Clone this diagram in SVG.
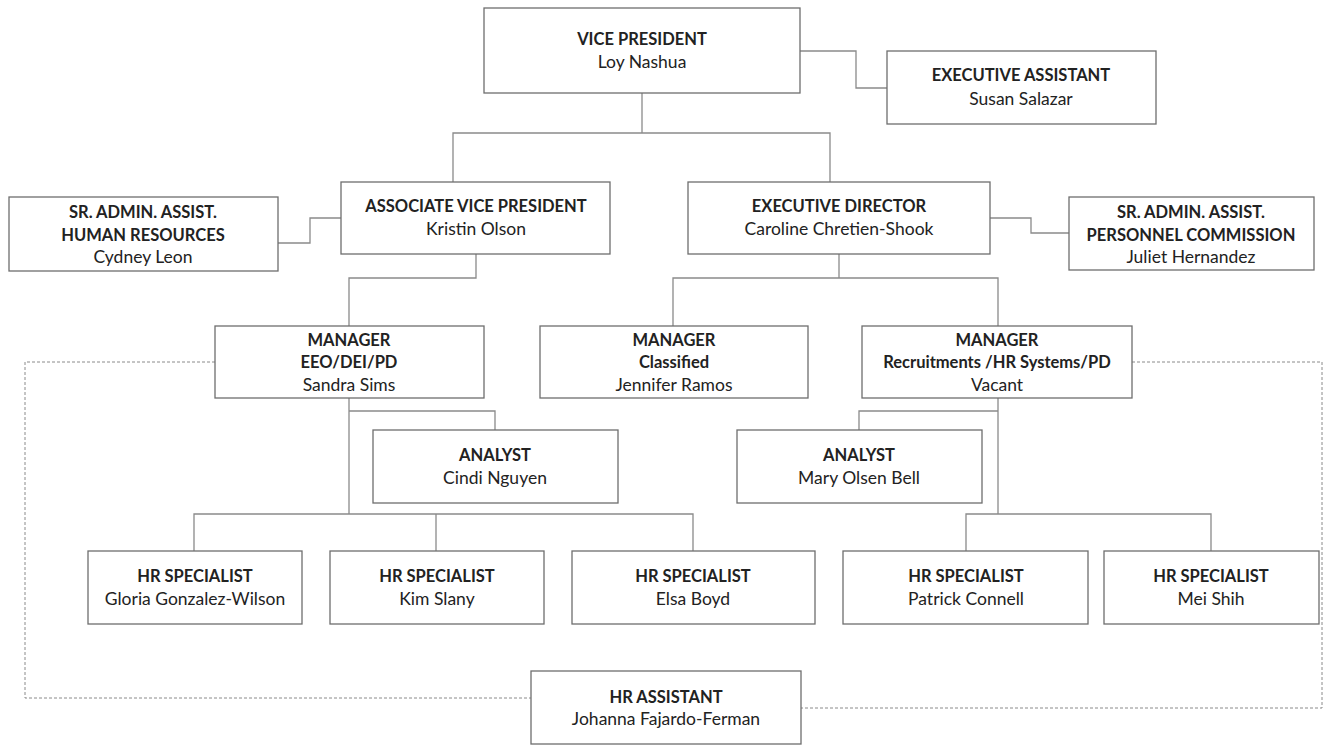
<svg xmlns="http://www.w3.org/2000/svg" width="1333" height="745" viewBox="0 0 1333 745">
  <style>
    .box { fill: #ffffff; stroke: #6e6e6e; stroke-width: 1.3; }
    .link { fill: none; stroke: #8a8a8a; stroke-width: 1.3; }
    .dotted { fill: none; stroke: #8a8a8a; stroke-width: 1; stroke-dasharray: 3 2; }
    text { font-family: Lato, "Open Sans", "Liberation Sans", sans-serif; font-size: 17.5px; fill: #222222; text-anchor: middle; }
    .title { font-weight: bold; font-size: 16.5px; }
  </style>
  <rect width="1333" height="745" fill="#ffffff"/>

  <!-- reporting lines -->
  <g id="connectors">
    <polyline class="link" points="800,51 856,51 856,88 887,88"/>
    <polyline class="link" points="642,93 642,133"/>
    <polyline class="link" points="453,182 453,133 830,133 830,182"/>
    <polyline class="link" points="341,218 310,218 310,243 278,243"/>
    <polyline class="link" points="990,218 1031,218 1031,233 1069,233"/>
    <polyline class="link" points="476,254 476,278 349,278 349,326"/>
    <polyline class="link" points="839,254 839,278"/>
    <polyline class="link" points="673,326 673,278 998,278 998,326"/>
    <polyline class="link" points="349,398 349,514"/>
    <polyline class="link" points="349,411 495,411 495,430"/>
    <polyline class="link" points="194,551 194,514 693,514 693,551"/>
    <polyline class="link" points="436,514 436,551"/>
    <polyline class="link" points="998,398 998,514"/>
    <polyline class="link" points="998,411 859,411 859,430"/>
    <polyline class="link" points="966,551 966,514 1211,514 1211,551"/>
    <!-- shared assistant, dotted lines -->
    <polyline class="dotted" points="215,362 25,362 25,698 531,698"/>
    <polyline class="dotted" points="1132,362 1322,362 1322,708 801,708"/>
  </g>

  <g id="vice-president">
    <rect class="box" x="484" y="8" width="316" height="85"/>
    <text class="title" x="642" y="45">VICE PRESIDENT</text>
    <text x="642" y="68">Loy Nashua</text>
  </g>

  <g id="executive-assistant">
    <rect class="box" x="887" y="51" width="269" height="73"/>
    <text class="title" x="1021" y="81">EXECUTIVE ASSISTANT</text>
    <text x="1021" y="105">Susan Salazar</text>
  </g>

  <g id="associate-vice-president">
    <rect class="box" x="341" y="182" width="269" height="72"/>
    <text class="title" x="476" y="212">ASSOCIATE VICE PRESIDENT</text>
    <text x="476" y="235">Kristin Olson</text>
  </g>

  <g id="executive-director">
    <rect class="box" x="688" y="182" width="302" height="72"/>
    <text class="title" x="839" y="212">EXECUTIVE DIRECTOR</text>
    <text x="839" y="235">Caroline Chretien-Shook</text>
  </g>

  <g id="sr-admin-hr">
    <rect class="box" x="9" y="197" width="269" height="74"/>
    <text class="title" x="143" y="218">SR. ADMIN. ASSIST.</text>
    <text class="title" x="143" y="241">HUMAN RESOURCES</text>
    <text x="143" y="263">Cydney Leon</text>
  </g>

  <g id="sr-admin-pc">
    <rect class="box" x="1069" y="197" width="245" height="73"/>
    <text class="title" x="1191" y="218">SR. ADMIN. ASSIST.</text>
    <text class="title" x="1191" y="241">PERSONNEL COMMISSION</text>
    <text x="1191" y="263">Juliet Hernandez</text>
  </g>

  <g id="manager-eeo">
    <rect class="box" x="215" y="326" width="269" height="72"/>
    <text class="title" x="349" y="346">MANAGER</text>
    <text class="title" x="349" y="368">EEO/DEI/PD</text>
    <text x="349" y="391">Sandra Sims</text>
  </g>

  <g id="manager-classified">
    <rect class="box" x="540" y="326" width="268" height="72"/>
    <text class="title" x="674" y="346">MANAGER</text>
    <text class="title" x="674" y="368">Classified</text>
    <text x="674" y="391">Jennifer Ramos</text>
  </g>

  <g id="manager-recruitments">
    <rect class="box" x="862" y="326" width="270" height="72"/>
    <text class="title" x="997" y="346">MANAGER</text>
    <text class="title" x="997" y="368">Recruitments /HR Systems/PD</text>
    <text x="997" y="391">Vacant</text>
  </g>

  <g id="analyst-nguyen">
    <rect class="box" x="373" y="430" width="245" height="73"/>
    <text class="title" x="495" y="461">ANALYST</text>
    <text x="495" y="484">Cindi Nguyen</text>
  </g>

  <g id="analyst-bell">
    <rect class="box" x="737" y="430" width="245" height="73"/>
    <text class="title" x="859" y="461">ANALYST</text>
    <text x="859" y="484">Mary Olsen Bell</text>
  </g>

  <g id="specialist-gonzalez-wilson">
    <rect class="box" x="88" y="551" width="214" height="73"/>
    <text class="title" x="195" y="582">HR SPECIALIST</text>
    <text x="195" y="605">Gloria Gonzalez-Wilson</text>
  </g>

  <g id="specialist-slany">
    <rect class="box" x="330" y="551" width="214" height="73"/>
    <text class="title" x="437" y="582">HR SPECIALIST</text>
    <text x="437" y="605">Kim Slany</text>
  </g>

  <g id="specialist-boyd">
    <rect class="box" x="572" y="551" width="243" height="73"/>
    <text class="title" x="693" y="582">HR SPECIALIST</text>
    <text x="693" y="605">Elsa Boyd</text>
  </g>

  <g id="specialist-connell">
    <rect class="box" x="843" y="551" width="245" height="73"/>
    <text class="title" x="966" y="582">HR SPECIALIST</text>
    <text x="966" y="605">Patrick Connell</text>
  </g>

  <g id="specialist-shih">
    <rect class="box" x="1104" y="551" width="215" height="73"/>
    <text class="title" x="1211" y="582">HR SPECIALIST</text>
    <text x="1211" y="605">Mei Shih</text>
  </g>

  <g id="hr-assistant">
    <rect class="box" x="531" y="671" width="270" height="73"/>
    <text class="title" x="666" y="703">HR ASSISTANT</text>
    <text x="666" y="725">Johanna Fajardo-Ferman</text>
  </g>
</svg>
